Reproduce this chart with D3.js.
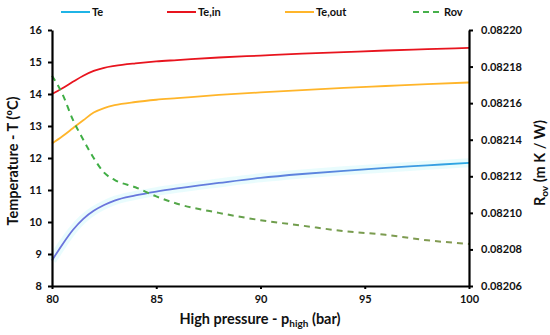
<!DOCTYPE html>
<html>
<head>
<meta charset="utf-8">
<script src="https://cdn.jsdelivr.net/npm/d3@7"></script>
<style>
  body { margin: 0; background: #fff; }
  svg { font-family: Lato, "Open Sans", sans-serif; font-weight: bold; }
  .tick text { font-size: 11px; fill: #111; }
</style>
</head>
<body>
<div id="chart"></div>
<script>
// data
var pressure = [80, 80.5, 81, 81.5, 82, 82.5, 83, 84, 85, 86, 88, 90, 92, 94, 96, 98, 100];
var te    = [8.8, 9.3, 9.75, 10.1, 10.35, 10.53, 10.67, 10.83, 10.95, 11.05, 11.22, 11.38, 11.5, 11.6, 11.69, 11.77, 11.85];
var teIn  = [14.0, 14.18, 14.38, 14.57, 14.72, 14.82, 14.88, 14.96, 15.02, 15.06, 15.14, 15.2, 15.26, 15.31, 15.36, 15.4, 15.44];
var teOut = [12.45, 12.68, 12.93, 13.18, 13.42, 13.56, 13.65, 13.75, 13.82, 13.87, 13.97, 14.05, 14.12, 14.19, 14.25, 14.31, 14.36];
var rov   = [0.082175, 0.082165, 0.082151, 0.08214, 0.08213, 0.082122, 0.082118, 0.082114, 0.082109, 0.082105, 0.0821, 0.082096, 0.082093, 0.08209, 0.082088, 0.082085, 0.082083];

var xTicks = [80, 85, 90, 95, 100];
var yTicks = [8, 9, 10, 11, 12, 13, 14, 15, 16];
var y2Ticks = [0.08206, 0.08208, 0.0821, 0.08212, 0.08214, 0.08216, 0.08218, 0.0822];

var svgWidth = 550;
var svgHeight = 335;
var margin = { top: 30, right: 81, bottom: 49, left: 52 };
var width = svgWidth - margin.left - margin.right;
var height = svgHeight - margin.top - margin.bottom;

var svg = d3.select("#chart").append("svg")
    .attr("width", svgWidth)
    .attr("height", svgHeight);

var defs = svg.append("defs");
var gBlue = defs.append("linearGradient").attr("id", "gradTe")
    .attr("gradientUnits", "userSpaceOnUse")
    .attr("x1", margin.left).attr("x2", margin.left + width).attr("y1", 0).attr("y2", 0);
gBlue.append("stop").attr("offset", "0%").attr("stop-color", "#6a74dc");
gBlue.append("stop").attr("offset", "55%").attr("stop-color", "#5a86de");
gBlue.append("stop").attr("offset", "100%").attr("stop-color", "#16b6e6");

var gGreen = defs.append("linearGradient").attr("id", "gradRov")
    .attr("gradientUnits", "userSpaceOnUse")
    .attr("x1", margin.left).attr("x2", margin.left + width).attr("y1", 0).attr("y2", 0);
gGreen.append("stop").attr("offset", "0%").attr("stop-color", "#3fae45");
gGreen.append("stop").attr("offset", "40%").attr("stop-color", "#6f9d4c");
gGreen.append("stop").attr("offset", "100%").attr("stop-color", "#8c9a55");

var chart = svg.append("g")
    .attr("transform", `translate(${margin.left}, ${margin.top})`);

var x = d3.scaleLinear().domain([80, 100]).range([0, width]);
var y = d3.scaleLinear().domain([8, 16]).range([height, 0]);
var y2 = d3.scaleLinear().domain([0.08206, 0.0822]).range([height, 0]);

// lines
var lineT = d3.line()
    .x((d, i) => x(pressure[i]))
    .y(d => y(d))
    .curve(d3.curveMonotoneX);
var lineR = d3.line()
    .x((d, i) => x(pressure[i]))
    .y(d => y2(d))
    .curve(d3.curveMonotoneX);

// faint halo under Te line (as in the picture)
chart.append("path").attr("d", lineT(te))
    .attr("fill", "none").attr("stroke", "#e4fbfd").attr("stroke-width", 9).attr("opacity", 0.8);

chart.append("path").attr("d", lineT(te))
    .attr("fill", "none").attr("stroke", "url(#gradTe)").attr("stroke-width", 1.8);
chart.append("path").attr("d", lineT(teIn))
    .attr("fill", "none").attr("stroke", "#e8141e").attr("stroke-width", 1.8);
chart.append("path").attr("d", lineT(teOut))
    .attr("fill", "none").attr("stroke", "#ffb52a").attr("stroke-width", 1.8);
chart.append("path").attr("d", lineR(rov))
    .attr("fill", "none").attr("stroke", "url(#gradRov)").attr("stroke-width", 2)
    .attr("stroke-dasharray", "6,5");

// axes
var bottomAxis = d3.axisBottom(x).tickValues(xTicks).tickSize(3).tickSizeOuter(0).tickPadding(6);
var leftAxis = d3.axisLeft(y).tickValues(yTicks).tickSize(4).tickSizeOuter(0).tickPadding(6);
var rightAxis = d3.axisRight(y2).tickValues(y2Ticks).tickSize(4).tickSizeOuter(0).tickPadding(8)
    .tickFormat(d3.format(".5f"));

[
  chart.append("g").attr("transform", `translate(0, ${height})`).call(bottomAxis),
  chart.append("g").call(leftAxis),
  chart.append("g").attr("transform", `translate(${width}, 0)`).call(rightAxis)
].forEach(function(g) {
  g.attr("font-family", null).attr("font-size", null);
  g.select(".domain").attr("stroke", "#000").attr("stroke-width", 2.2);
  g.selectAll(".tick line").attr("stroke", "#000").attr("stroke-width", 2);
});

// axis titles
var xt = svg.append("text")
    .attr("x", 260).attr("y", 324)
    .attr("text-anchor", "middle")
    .attr("font-size", 14.5).attr("fill", "#111");
xt.append("tspan").text("High pressure - p");
xt.append("tspan").attr("font-size", 10).attr("dy", 3).text("high");
xt.append("tspan").attr("dy", -3).text(" (bar)");

svg.append("text")
    .attr("transform", "translate(18, 161) rotate(-90)")
    .attr("text-anchor", "middle")
    .attr("font-size", 14.5).attr("fill", "#111")
    .text("Temperature - T (ºC)");

var yt = svg.append("text")
    .attr("transform", "translate(545, 163) rotate(-90)")
    .attr("text-anchor", "middle")
    .attr("font-size", 14.5).attr("fill", "#111");
yt.append("tspan").text("R");
yt.append("tspan").attr("font-size", 10).attr("dy", 3).text("ov");
yt.append("tspan").attr("dy", -3).text(" (m K / W)");

// legend
var legendItems = [
  { name: "Te", color: "#1fb4e6", x0: 61, dash: null },
  { name: "Te,in", color: "#e8141e", x0: 167, dash: null },
  { name: "Te,out", color: "#ffb52a", x0: 285, dash: null },
  { name: "Rov", color: "#46b04a", x0: 413, dash: "6,4" }
];
var legend = svg.append("g");
legendItems.forEach(function(d) {
  legend.append("line")
    .attr("x1", d.x0).attr("x2", d.x0 + 29)
    .attr("y1", 12).attr("y2", 12)
    .attr("stroke", d.color).attr("stroke-width", 2)
    .attr("stroke-dasharray", d.dash);
  legend.append("text")
    .attr("x", d.x0 + 31).attr("y", 16)
    .attr("font-size", 11).attr("fill", "#111")
    .text(d.name);
});
</script>
</body>
</html>
